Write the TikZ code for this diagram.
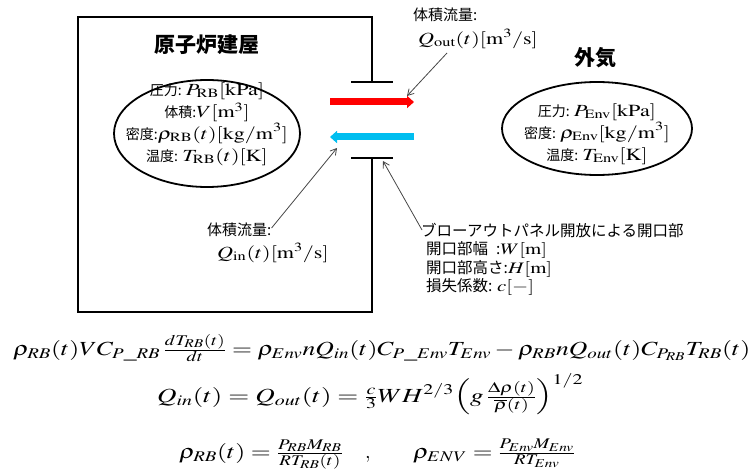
\documentclass[tikz,border=0pt]{standalone}
\usepackage{mathptmx}
\usepackage{fontspec}
\setmainfont{Liberation Serif}
\usepackage{graphicx}
\usetikzlibrary{arrows.meta}
\newfontfamily\jp{Noto Sans CJK JP}
\definecolor{flowred}{RGB}{255,0,0}
\definecolor{flowblue}{RGB}{0,190,240}
\definecolor{leadgray}{RGB}{70,70,70}
\newcommand{\wm}[2][17]{\scalebox{1.3}[1]{\fontsize{#1}{20}\selectfont$#2$}}
\newcommand{\eqbox}[2]{\resizebox{#1}{\height}{\fontsize{20}{24}\selectfont$#2$}}
\tikzset{
  wall/.style={line width=2.6pt, line cap=rect},
  flowarrow/.style={line width=7pt, -{Triangle[length=7pt,width=12pt]}},
  leader/.style={draw=leadgray, line width=0.8pt, -{Straight Barb[length=6pt,width=7pt]}},
  titletext/.style={font=\jp\bfseries\fontsize{21}{24}\selectfont},
  elltext/.style={font=\jp\fontsize{14}{22}\selectfont, align=center, inner sep=0pt},
  labeltext/.style={font=\jp\fontsize{15}{18}\selectfont, anchor=west, inner sep=0pt},
  eqn/.style={anchor=base west, inner sep=0pt}
}
\begin{document}
\begin{tikzpicture}[x=1pt,y=-1pt]
\useasboundingbox (0,0) rectangle (754,473);
% building walls
\draw[wall] (372,82) -- (372,17) -- (78,17) -- (78,312) -- (372,312) -- (372,158);
\draw[wall] (352,82) -- (392,82);
\draw[wall] (352,158) -- (392,158);
% titles
\node[titletext] (rbtitle) at (207,45) {原子炉建屋};
\node[titletext] (envtitle) at (595,58) {外気};
% ellipses
\draw[line width=1.8pt] (207,133.5) ellipse [x radius=93, y radius=53.5];
\node[elltext] (rbstate) at (207,124) {圧力: \wm{P_{\mathrm{RB}}[\mathrm{kPa}]}\\体積:\wm{V[\mathrm{m}^3]}\\密度:\wm{\rho_{\mathrm{RB}}(t)[\mathrm{kg/m}^3]}\\温度: \wm{T_{\mathrm{RB}}(t)[\mathrm{K}]}};
\draw[line width=1.8pt] (597,128.5) ellipse [x radius=95, y radius=46.5];
\node[elltext] (envstate) at (597,134) {圧力: \wm{P_{\mathrm{Env}}[\mathrm{kPa}]}\\密度: \wm{\rho_{\mathrm{Env}}[\mathrm{kg/m}^3]}\\温度: \wm{T_{\mathrm{Env}}[\mathrm{K}]}};
% flow arrows
\coordinate (redL) at (330,102);
\coordinate (redR) at (414,102);
\coordinate (blueR) at (414,137);
\coordinate (blueL) at (330,137);
\draw[flowarrow, flowred] (redL) -- (redR);
\draw[flowarrow, flowblue] (blueR) -- (blueL);
% labels
\node[labeltext] (outlab) at (413,15) {体積流量:};
\node[labeltext] (outq) at (418,39) {\wm{Q_{\mathrm{out}}(t)[\mathrm{m}^3/\mathrm{s}]}};
\node[labeltext] (inlab) at (207,230) {体積流量:};
\node[labeltext] (inq) at (217,253) {\wm{Q_{\mathrm{in}}(t)[\mathrm{m}^3/\mathrm{s}]}};
\node[labeltext, align=left, font=\jp\fontsize{15.5}{18.5}\selectfont, anchor=north west] (openlab) at (421,223)
  {ブローアウトパネル開放による開口部\\\hspace{5pt}開口部幅\hspace{8pt}:\wm[16]{W[\mathrm{m}]}\\\hspace{5pt}開口部高さ:\wm[16]{H[\mathrm{m}]}\\\hspace{5pt}損失係数: \wm[16]{c[-]}};
% leaders
\coordinate (outtip) at (407,96);
\coordinate (intip) at (337,148);
\coordinate (opentip) at (383,161);
\draw[leader] (447,53) -- (outtip);
\draw[leader] (inlab.east) ++(0,-2) -- (intip);
\draw[leader] (openlab.north west) ++(1,7) -- (opentip);
% equations
\node[eqn] (eq1) at (13,355) {\eqbox{737pt}{\rho_{RB}(t)VC_{P\_RB}\,\frac{dT_{RB}(t)}{dt}=\rho_{Env}nQ_{in}(t)C_{P\_Env}T_{Env}-\rho_{RB}nQ_{out}(t)C_{P_{RB}}T_{RB}(t)}};
\node[eqn] (eq2) at (157,402) {\eqbox{426pt}{Q_{in}(t)=Q_{out}(t)=\frac{c}{3}WH^{2/3}\Bigl(g\,\frac{\Delta\rho(t)}{\overline{\rho}(t)}\Bigr)^{1/2}}};
\node[eqn] (eq3a) at (179,458) {\eqbox{164pt}{\rho_{RB}(t)=\frac{P_{RB}M_{RB}}{RT_{RB}(t)}}};
\node[eqn] (eq3c) at (365,458) {\fontsize{20}{24}\selectfont$,$};
\node[eqn] (eq3b) at (413,458) {\eqbox{162pt}{\rho_{ENV}=\frac{P_{Env}M_{Env}}{RT_{Env}}}};
\end{tikzpicture}
\end{document}
